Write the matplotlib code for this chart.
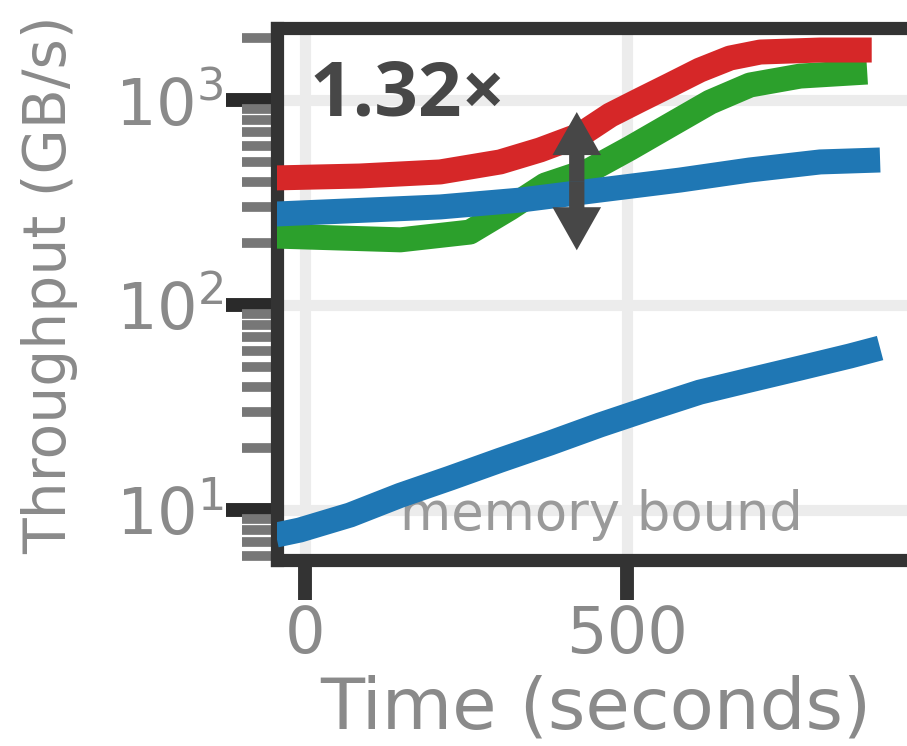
import matplotlib
matplotlib.use("Agg")
import matplotlib.pyplot as plt
from matplotlib.patches import FancyArrowPatch
from matplotlib.ticker import LogLocator, NullFormatter

# Throughput traces: time in seconds, rate on a log axis
red_t = [-45, 85, 210, 303, 365, 427, 474, 520, 567, 613, 660, 707, 800, 880]
red_v = [417, 426, 446, 499, 571, 675, 845, 1000, 1184, 1400, 1603, 1715, 1754, 1754]

green_t = [-45, 148, 256, 318, 373, 443, 505, 567, 629, 691, 769, 873]
green_v = [217, 208, 227, 297, 385, 456, 583, 755, 977, 1184, 1309, 1370]

blue_t = [-45, 210, 334, 458, 582, 691, 800, 893]
blue_v = [278, 301, 325, 364, 407, 456, 499, 510]

mem_t = [-45, -8, 70, 148, 225, 303, 380, 458, 536, 613, 691, 769, 846, 893]
mem_v = [7.55, 7.99, 9.46, 11.8, 14.3, 17.5, 21.2, 26.0, 31.4, 37.6, 43.1, 49.3, 56.4, 61.7]

x_ticks = [0, 500]
ratio_label = "1.32\u00d7"
arrow_t = 422
arrow_lo, arrow_hi = 185, 874

RED, GREEN, BLUE = "#d62728", "#2ca02c", "#1f77b4"
INK = "#333333"
TXT = "#8a8a8a"

fig = plt.figure(figsize=(9.07, 7.46), dpi=100)
ax = fig.add_axes([0.3054, 0.2493, 0.7541, 0.7131])

ax.set_yscale("log")
ax.set_xlim(-43.5, 1018.6)
ax.set_ylim(5.704, 2245)

lw = 18
ax.plot(mem_t, mem_v, color=BLUE, lw=lw, solid_capstyle="butt", zorder=3)
ax.plot(green_t, green_v, color=GREEN, lw=lw, solid_capstyle="butt", zorder=4)
ax.plot(blue_t, blue_v, color=BLUE, lw=lw, solid_capstyle="butt", zorder=5)
ax.plot(red_t, red_v, color=RED, lw=lw, solid_capstyle="butt", zorder=6)

ax.text(0.18, 0.056, "memory bound", transform=ax.transAxes, fontsize=38,
        color="#9a9a9a", ha="left", va="baseline", zorder=2)

# grid, spines, ticks
ax.set_axisbelow(True)
ax.grid(True, which="major", color="#ececec", lw=8)
for side in ("top", "left", "bottom"):
    ax.spines[side].set_color(INK)
    ax.spines[side].set_linewidth(9.5)
ax.spines["right"].set_visible(False)

ax.set_xticks(x_ticks)
ax.yaxis.set_major_locator(LogLocator(base=10))
ax.yaxis.set_minor_locator(LogLocator(base=10, subs=[2, 3, 4, 5, 6, 7, 8, 9]))
ax.yaxis.set_minor_formatter(NullFormatter())
ax.tick_params(axis="y", which="major", length=37, width=10, color="#2a2a2a",
               labelsize=46, labelcolor=TXT, pad=1)
ax.tick_params(axis="y", which="minor", length=25, width=7, color="#777777")
ax.tick_params(axis="x", which="major", length=29, width=10, color=INK,
               labelsize=46, labelcolor=TXT, pad=3)
ax.tick_params(axis="x", which="minor", length=0)

ax.set_xlabel("Time (seconds)", fontsize=52, color=TXT)
ax.xaxis.set_label_coords(0.466, -0.215)
fig.text(0.055, 0.618, "Throughput (GB/s)", rotation=90, fontsize=42,
         color=TXT, ha="center", va="center")

# ratio callout
ax.text(0.047, 0.8365, ratio_label, transform=ax.transAxes, fontsize=55,
        fontfamily="Open Sans", fontweight="bold", color="#474747",
        ha="left", va="baseline", zorder=10)
mid = (arrow_lo * arrow_hi) ** 0.5
for end in (arrow_lo, arrow_hi):
    ax.add_patch(FancyArrowPatch(
        (arrow_t, mid), (arrow_t, end),
        arrowstyle="simple,head_length=31,head_width=35,tail_width=11",
        mutation_scale=1, color="#474747", lw=0, shrinkA=0, shrinkB=0,
        zorder=10))

fig.savefig("out.png", dpi=100)
